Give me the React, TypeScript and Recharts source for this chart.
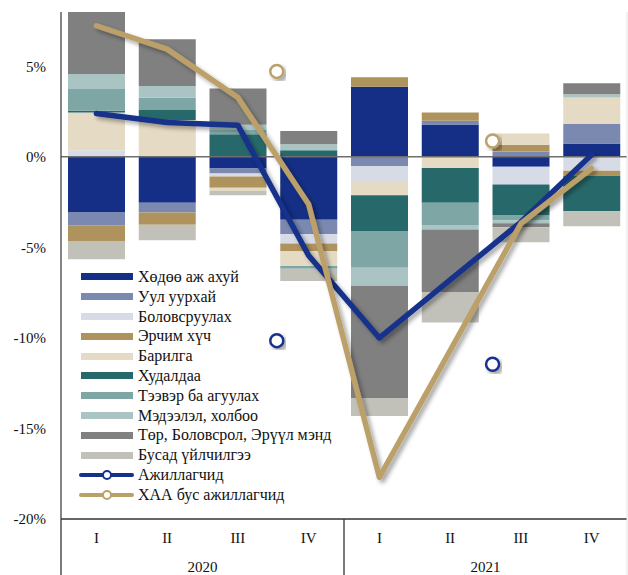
import React from 'react';
import {
  ComposedChart,
  Bar,
  Line,
  Scatter,
  XAxis,
  YAxis,
  ReferenceLine,
} from 'recharts';

// quarters and years
const quarters = ['I', 'II', 'III', 'IV', 'I', 'II', 'III', 'IV'];
const years = ['2020', '2021'];

// sector contributions, percentage points (2020 I .. 2021 IV)
const agri = [-3.04, -2.54, -0.64, -3.48, 3.87, 1.79, -0.55, 0.74];
const mining = [-0.74, -0.53, -0.28, -0.79, -0.5, 0.2, 0.3, 1.07];
const manuf = [0.37, 0, -0.17, -0.52, -0.83, 0, -0.97, -0.77];
const energy = [-0.87, -0.68, -0.61, -0.41, 0.52, 0.46, 0.37, -0.28];
const constr = [2.08, 2.04, -0.18, -0.83, -0.79, -0.61, 0.62, 1.47];
const trade = [0.1, 0.55, 1.25, 0.37, -1.97, -1.93, -1.69, -1.95];
const transport = [1.2, 0.68, 0.24, -0.15, -2.03, -1.23, -0.31, 0];
const info = [0.83, 0.64, 0.28, 0.33, -1.01, -0.24, -0.15, 0.18];
const publicSvc = [3.5, 2.58, 2.0, 0.73, -6.19, -3.45, -0.22, 0.61];
const otherSvc = [-1.01, -0.85, -0.24, -0.68, -0.99, -1.69, -0.83, -0.83];

// lines
const employed = [2.4, 1.9, 1.75, -5.45, -10.0, -6.8, -3.6, 0.12];
const nonAgri = [7.24, 5.95, 3.28, -2.62, -17.7, -10.7, -3.68, -0.64];

// annual points (position on the quarter scale 0..8)
const annualPos = [3.05, 6.1];
const employedAnnual = [-10.15, -11.45];
const nonAgriAnnual = [4.72, 0.88];

const yTicks = [-20, -15, -10, -5, 0, 5];

const bars = [
  { key: 'agri', name: 'Хөдөө аж ахуй', color: '#142f85', values: agri },
  { key: 'mining', name: 'Уул уурхай', color: '#7b89b0', values: mining },
  { key: 'manuf', name: 'Боловсруулах', color: '#d6dbe6', values: manuf },
  { key: 'energy', name: 'Эрчим хүч', color: '#ae935c', values: energy },
  { key: 'constr', name: 'Барилга', color: '#e5dac3', values: constr },
  { key: 'trade', name: 'Худалдаа', color: '#27696a', values: trade },
  { key: 'transport', name: 'Тээвэр ба агуулах', color: '#7ea6a4', values: transport },
  { key: 'info', name: 'Мэдээлэл, холбоо', color: '#aac4c4', values: info },
  { key: 'publicSvc', name: 'Төр, Боловсрол, Эрүүл мэнд', color: '#808080', values: publicSvc },
  { key: 'otherSvc', name: 'Бусад үйлчилгээ', color: '#c1c1b9', values: otherSvc },
];

const lines = [
  { key: 'employed', name: 'Ажиллагчид', color: '#15318a', values: employed, annual: employedAnnual },
  { key: 'nonAgri', name: 'ХАА бус ажиллагчид', color: '#bca06a', values: nonAgri, annual: nonAgriAnnual },
];

const data = quarters.map((q, i) => {
  const row: any = { q };
  bars.forEach((b) => (row[b.key] = b.values[i]));
  lines.forEach((l) => (row[l.key] = l.values[i]));
  return row;
});

const FONT = '"Liberation Serif", "Times New Roman", serif';
const W = 628;
const H = 575;
const Y_AXIS_W = 61;
const PLOT_W = W - Y_AXIS_W - 1;
const STEP = PLOT_W / quarters.length;

const QuarterTick = ({ x, y, payload, index }: any) => {
  return (
    <g>
      <text x={x} y={y + 24} textAnchor="middle" fontSize={15} fontFamily={FONT} fill="#111">
        {payload.value}
      </text>
      {index % 4 === 0 && (
        <>
          <line x1={x - STEP / 2} x2={x - STEP / 2} y1={y} y2={y + 60} stroke="#333" strokeWidth={1.3} />
          <text x={x + STEP * 1.5} y={y + 53} textAnchor="middle" fontSize={15} fontFamily={FONT} fill="#111">
            {years[index / 4]}
          </text>
        </>
      )}
      {index === quarters.length - 1 && (
        <line x1={x + STEP / 2} x2={x + STEP / 2} y1={y} y2={y + 60} stroke="#e4e4e4" strokeWidth={1} />
      )}
    </g>
  );
};

const ring = (color: string) => (props: any) => (
  <circle cx={props.cx} cy={props.cy} r={6.5} fill="#fff" stroke={color} strokeWidth={2.5} filter="url(#dropShadow)" />
);

const LegendBox = () => (
  <div
    style={{
      position: 'absolute',
      left: 79,
      top: 267,
      fontFamily: FONT,
      fontSize: 16,
      color: '#111',
      lineHeight: '19.8px',
    }}
  >
    {bars.map((b) => (
      <div key={b.key} style={{ display: 'flex', alignItems: 'center', height: 19.8, whiteSpace: 'nowrap' }}>
        <span style={{ display: 'inline-block', width: 52, height: 7, marginLeft: 2, background: b.color }} />
        <span style={{ marginLeft: 5 }}>{b.name}</span>
      </div>
    ))}
    {lines.map((l) => (
      <div key={l.key} style={{ display: 'flex', alignItems: 'center', height: 19.8, whiteSpace: 'nowrap' }}>
        <span style={{ position: 'relative', display: 'inline-block', width: 55, height: 4, borderRadius: 2, background: l.color }}>
          <span
            style={{
              position: 'absolute',
              left: 23,
              top: -3,
              width: 6,
              height: 6,
              borderRadius: '50%',
              background: '#fff',
              border: `2px solid ${l.color}`,
            }}
          />
        </span>
        <span style={{ marginLeft: 4 }}>{l.name}</span>
      </div>
    ))}
  </div>
);

export default function App() {
  return (
    <div style={{ position: 'absolute', left: 0, top: 0, width: W, height: H, background: '#fff' }}>
      <ComposedChart
        width={W}
        height={H}
        data={data}
        stackOffset="sign"
        margin={{ top: 12, right: 0, left: 0, bottom: 0 }}
      >
        <defs>
          <filter id="dropShadow" x="-20%" y="-20%" width="140%" height="140%">
            <feDropShadow dx="3" dy="3" stdDeviation="2" floodColor="#000" floodOpacity="0.35" />
          </filter>
        </defs>
        <XAxis
          dataKey="q"
          height={56}
          axisLine={{ stroke: '#333', strokeWidth: 1.3 }}
          tickLine={false}
          tickSize={0}
          tickMargin={0}
          interval={0}
          tick={<QuarterTick />}
        />
        <XAxis
          xAxisId="pos"
          dataKey="x"
          type="number"
          orientation="top"
          domain={[0, 8]}
          allowDataOverflow
          height={0}
          tick={false}
          tickLine={false}
          axisLine={{ stroke: '#858585', strokeWidth: 2 }}
        />
        <YAxis
          width={Y_AXIS_W}
          domain={[-20, 8]}
          ticks={yTicks}
          allowDataOverflow
          tickFormatter={(v) => `${v}%`}
          tick={{ fontSize: 15, fontFamily: FONT, fill: '#111' }}
          tickLine={false}
          tickSize={0}
          tickMargin={15}
          axisLine={{ stroke: '#444', strokeWidth: 1.3 }}
        />
        <YAxis
          yAxisId="right"
          orientation="right"
          width={1}
          domain={[-20, 8]}
          tick={false}
          tickLine={false}
          axisLine={{ stroke: '#e4e4e4' }}
        />
        {bars.map((b) => (
          <Bar
            key={b.key}
            dataKey={b.key}
            name={b.name}
            stackId="a"
            fill={b.color}
            barSize={57}
            isAnimationActive={false}
          />
        ))}
        <ReferenceLine y={0} stroke="#6e6e6e" strokeWidth={1.5} />
        {lines.map((l) => (
          <Line
            key={l.key}
            type="linear"
            dataKey={l.key}
            name={l.name}
            stroke={l.color}
            strokeWidth={5.5}
            strokeLinejoin="round"
            strokeLinecap="round"
            dot={false}
            activeDot={false}
            filter="url(#dropShadow)"
            isAnimationActive={false}
          />
        ))}
        {lines.map((l) => (
          <Scatter
            key={l.key + 'Annual'}
            xAxisId="pos"
            dataKey="y"
            data={annualPos.map((x, i) => ({ x, y: l.annual[i] }))}
            shape={ring(l.color)}
            isAnimationActive={false}
          />
        ))}
      </ComposedChart>
      <LegendBox />
    </div>
  );
}
